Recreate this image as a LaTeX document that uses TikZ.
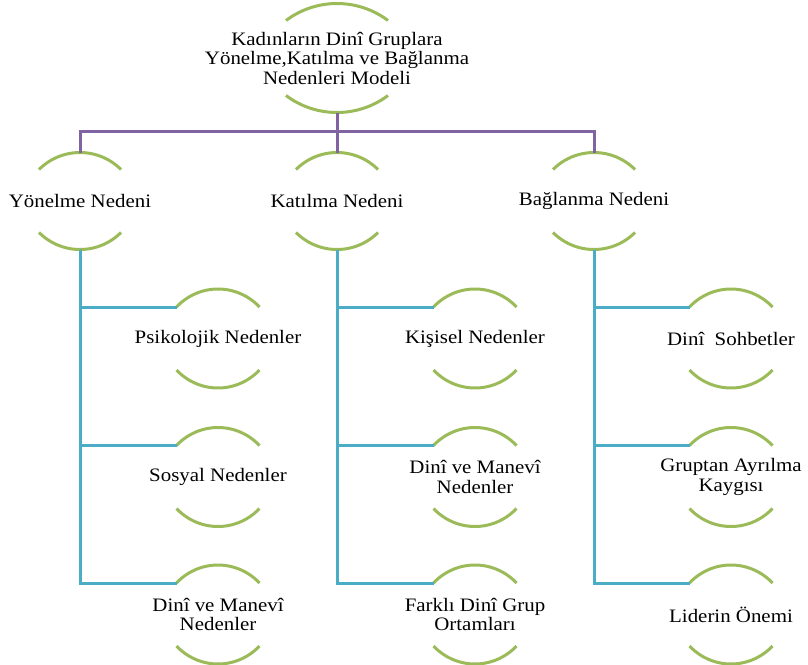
\documentclass[tikz,border=0pt]{standalone}
\usepackage{fontspec}
\setmainfont[FakeStretch=1.1]{Liberation Serif}
\usetikzlibrary{calc}
\definecolor{ringgreen}{RGB}{155,187,89}
\definecolor{linkpurple}{RGB}{128,100,162}
\definecolor{linkblue}{RGB}{75,172,198}
\tikzset{
  label/.style={inner sep=0pt, align=center, text=black, font=\fontsize{19}{19.5}\selectfont},
  ringarc/.style={draw=ringgreen, line width=3pt},
  toplink/.style={draw=linkpurple, line width=3pt},
  sublink/.style={draw=linkblue, line width=3pt},
}
% #1 node name, #2 half chord, #3 vertical offset of arc ends, #4 sagitta
\newcommand{\ringpair}[4]{%
  \pgfmathsetmacro\ringR{(#2*#2+#4*#4)/(2*#4)}%
  \pgfmathsetmacro\ringA{asin(#2/\ringR)}%
  \draw[ringarc] ($(#1)+(-#2,-#3)$) arc[start angle=270-\ringA, end angle=270+\ringA, radius=\ringR];
  \draw[ringarc] ($(#1)+(-#2,#3)$) arc[start angle=90+\ringA, end angle=90-\ringA, radius=\ringR];
  \coordinate (#1-t) at ($(#1)+(0,-#3-#4)$);
  \coordinate (#1-b) at ($(#1)+(0,#3+#4)$);
  \coordinate (#1-l) at ($(#1)+(-#2,-#3)$);
}
\begin{document}
\begin{tikzpicture}[x=1pt,y=-1pt]
\useasboundingbox (0,0) rectangle (808,664);
% root
\node[label] (T) at (337,58) {Kadınların Dinî Gruplara\\Yönelme,Katılma ve Bağlanma\\Nedenleri Modeli};
\ringpair{T}{51}{37.5}{17}
% level 2
\node[label] (Y) at (80,201) {Yönelme Nedeni};
\node[label] (K) at (337,201) {Katılma Nedeni};
\node[label] (B) at (594,201) {Bağlanma Nedeni};
\foreach \n in {Y,K,B} {\ringpair{\n}{41}{31.5}{17}}
% level 3
\node[label] (Y1) at (218,338.5) {Psikolojik Nedenler};
\node[label] (Y2) at (218,477) {Sosyal Nedenler};
\node[label] (Y3) at (218,614.5) {Dinî ve Manevî\\Nedenler};
\node[label] (K1) at (475,338.5) {Kişisel Nedenler};
\node[label] (K2) at (475,477) {Dinî ve Manevî\\Nedenler};
\node[label] (K3) at (475,614.5) {Farklı Dinî Grup\\Ortamları};
\node[label] (B1) at (731,338.5) {Dinî~~Sohbetler};
\node[label] (B2) at (731,477) {Gruptan Ayrılma\\Kaygısı};
\node[label] (B3) at (731,614.5) {Liderin Önemi};
\foreach \n in {Y1,Y2,Y3,K1,K2,K3,B1,B2,B3} {\ringpair{\n}{41.5}{31.5}{18}}
% purple connectors
\foreach \n in {Y,K,B} {\draw[toplink] (T-b) -- ++(0,19) -| (\n-t);}
% blue connectors
\foreach \p in {Y,K,B} {
  \foreach \i in {1,2,3} {\draw[sublink] (\p-b) |- (\p\i-l);}
}
\end{tikzpicture}
\end{document}
